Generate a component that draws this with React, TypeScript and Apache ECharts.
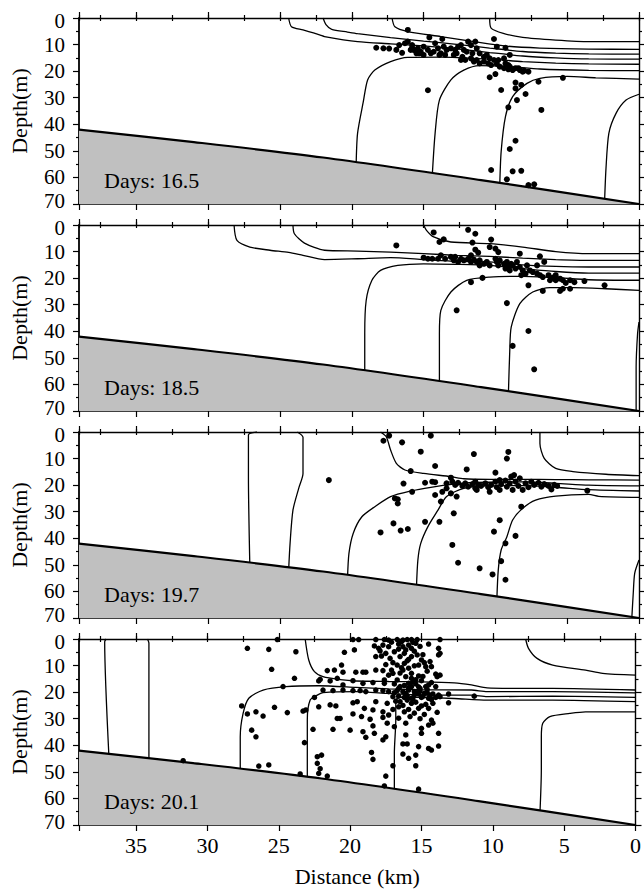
import React, { useEffect, useRef } from "react";
import * as echarts from "echarts";

const FONT = "Liberation Serif";
const DAY_LABELS = ["Days: 16.5", "Days: 18.5", "Days: 19.7", "Days: 20.1"];
const X_MIN = 0;
const X_MAX = 39;
const Y_MIN = 0;
const Y_MAX = 70;

// sea floor: [distance km, depth m]
const BATHYMETRY = [[39, 42], [31, 46.7], [22, 52.5], [11, 61.0], [0, 70]];

// ---------- Panel 1 (day 16.5) ----------
const P1_CONTOURS = [
  [[10.4,0],[10.3,3.8],[9.45,5.8],[8.1,7.3],[5.8,8.3],[3.5,8.9],[0,8.9]],
  [[17.2,0],[17.0,3.3],[16.1,5.1],[13.8,7.0],[11.5,8.9],[9.2,10.6],[6.9,11.3],[3.5,11.7],[0,11.8]],
  [[22.0,0],[21.8,2.5],[21.4,4.3],[20.3,5.3],[19.6,5.9],[17.3,7.4],[15.0,8.7],[12.7,9.9],[10.4,11.3],[8.1,12.6],[5.8,13.2],[3.5,13.5],[0,13.6]],
  [[24.4,0],[24.2,3.3],[23.4,4.5],[22.2,6.4],[21.9,7.0],[19.6,8.9],[17.3,9.7],[15.0,10.5],[12.7,11.6],[10.4,13.0],[8.1,14.3],[5.8,15.0],[3.5,15.4],[0,15.5]],
  [[19.7,55.5],[19.6,43.4],[19.2,31.5],[18.9,23.3],[18.4,19.6],[17.3,16.4],[16.1,14.8],[13.8,14.7],[10.4,15.5],[8.1,16.4],[5.8,17.0],[3.5,17.3],[0,17.4]],
  [[14.4,59.5],[14.2,43.4],[13.9,30.9],[13.1,23.3],[12.2,19.6],[11.1,17.9],[9.2,18.2],[6.9,19.2],[3.5,19.7],[0,19.8]],
  [[9.7,63.5],[9.6,50.3],[9.3,37.1],[8.8,29.6],[7.8,24.6],[6.9,22.7],[5.0,22.0],[3.0,22.5],[0,23.0]],
  [[2.4,69.5],[2.3,56.7],[2.1,43.4],[1.6,35.9],[0.9,30.9],[0,28.7]],
];
const P1_POINTS = [
  [16.1,4.5],[14.6,7.3],[13.7,7.9],[10.1,7.9],[18.3,11.2],[17.8,11.4],[17.4,11.5],[16.9,12.0],[16.7,10.2],[16.3,9.5],[16.1,8.9],[15.8,10.2],[15.7,12.0],[15.4,11.4],[15.2,12.7],[15.0,10.8],[14.7,12.0],[14.5,13.3],[14.2,9.5],[14.0,11.4],[13.8,13.3],[13.4,12.0],[13.1,11.4],[12.9,13.9],[12.6,10.8],[12.4,10.2],[12.2,12.0],[11.9,8.9],[11.7,10.2],[11.4,8.9],[11.3,11.4],[11.1,13.3],[10.8,14.6],[10.6,13.9],[10.4,15.2],[10.1,15.8],[9.9,10.8],[9.8,15.8],[9.4,15.2],[9.3,17.1],[9.1,17.7],[9.0,18.3],[8.6,18.9],[8.3,19.6],[8.0,19.8],[7.7,20.2],[9.0,13.9],[9.3,11.2],[10.4,22.3],[10.0,21.1],[9.6,27.1],[8.6,24.3],[8.2,25.2],[8.6,26.5],[7.9,28.6],[8.5,30.9],[9.1,33.6],[7.0,24.0],[5.3,22.5],[6.8,34.6],[14.7,27.2],[8.6,46.2],[9.0,49.3],[10.3,57.2],[8.8,57.7],[8.2,57.5],[9.2,60.7],[7.7,62.9],[7.3,62.6],
  [15.9,12.0],[15.3,13.3],[15.0,13.9],[14.3,12.7],[13.9,13.9],[13.5,13.9],[12.7,13.3],[12.3,14.6],[12.1,15.8],[11.7,15.2],[11.5,16.4],[11.3,15.8],[11.1,17.1],[10.8,16.4],[10.5,17.1],[10.3,17.7],[9.9,17.3],[9.7,18.3],[9.4,18.9],[9.1,19.3],[8.8,19.6],[8.4,18.9],[8.1,20.2],[12.0,12.7],[11.6,13.3],[12.8,12.0],[13.6,10.8],[15.5,13.3],[16.5,13.1],[15.8,11.2],[12.4,15.8],
];

// ---------- Panel 2 (day 18.5) ----------
const P2_CONTOURS = [
  [[15.0,0],[14.8,2.0],[14.3,4.5],[13.1,6.4],[10.4,7.0],[8.1,8.3],[5.8,10.0],[3.5,10.8],[0,10.8]],
  [[24.1,0],[24.0,3.3],[23.3,6.8],[21.9,9.5],[19.6,9.8],[17.3,10.2],[15.0,10.8],[12.7,11.4],[10.4,11.8],[8.1,12.5],[5.8,13.0],[3.5,13.3],[0,13.3]],
  [[28.2,0],[28.0,5.8],[27.1,8.3],[25.7,9.5],[24.4,10.3],[23.4,11.4],[21.9,13.0],[19.6,12.7],[17.3,12.3],[15.0,13.0],[12.7,13.7],[10.4,13.9],[8.1,15.0],[5.8,15.6],[3.5,15.8],[0,15.8]],
  [[19.1,56.5],[19.1,40.9],[19.0,28.4],[18.6,20.8],[18.0,17.1],[16.8,15.2],[15.0,14.6],[12.7,14.8],[10.4,15.2],[8.1,16.4],[5.8,17.5],[3.5,18.1],[0,18.1]],
  [[13.9,60.5],[13.9,40.9],[13.8,32.1],[13.1,25.2],[12.0,20.8],[10.4,19.6],[8.1,19.3],[5.8,19.8],[3.5,20.6],[0,20.8]],
  [[9.1,64.5],[9.0,47.2],[8.9,38.4],[8.3,29.6],[7.4,25.2],[6.2,23.6],[4.6,23.6],[2.3,24.0],[0,24.6]],
  [[0.2,70],[0.2,53.5],[0.1,40.9],[0,36.5]],
];
const P2_POINTS = [
  [14.3,2.8],[11.9,1.8],[11.4,3.3],[13.9,6.4],[13.6,5.4],[11.6,6.6],[10.3,5.5],[16.9,7.7],[11.4,9.3],[11.2,10.4],[10.4,8.3],[10.0,8.9],[9.8,10.2],[8.3,10.8],[6.9,11.8],
  [15.0,12.3],[14.7,12.7],[14.4,12.7],[14.0,12.7],[13.8,11.4],[13.5,12.7],[12.9,13.3],[12.8,12.0],[12.4,12.7],[12.2,13.3],[11.9,12.7],[11.7,13.9],[11.5,13.0],[11.3,13.9],[11.1,13.3],[10.8,14.6],[10.6,13.9],[10.4,15.2],[10.0,12.7],[9.9,13.9],[9.7,13.3],[9.4,14.6],[9.2,13.9],[9.1,15.6],[8.9,14.6],[8.6,16.4],[8.5,13.9],[8.3,15.8],[8.1,17.1],[7.8,15.2],[7.6,17.1],[7.4,17.7],[7.1,18.3],[6.9,18.9],[6.7,19.6],[6.6,13.9],[6.3,18.9],[6.0,19.8],[5.8,20.8],[5.5,20.2],[5.3,20.8],[5.1,21.8],[4.8,20.8],[4.5,21.5],[3.8,21.1],[2.4,22.7],
  [8.2,18.9],[7.7,22.7],[10.9,19.9],[11.7,21.5],[6.7,24.8],[5.5,24.8],[5.3,24.0],[4.8,24.0],[9.2,29.4],[12.7,32.1],[7.7,39.9],[8.8,45.5],[7.3,54.3],
  [7.1,15.2],[9.8,15.2],[9.3,16.4],[9.0,17.1],[8.8,15.2],[7.9,18.3],[6.2,20.8],[5.8,18.9],[11.1,15.2],[11.7,11.4],[13.1,12.0],[12.6,13.9],
];

// ---------- Panel 3 (day 19.7) ----------
const P3_CONTOURS = [
  [[26.6,0],[27.2,1.1],[27.2,16.8],[27.1,51]],
  [[23.8,0],[23.4,2.0],[23.4,15.6],[23.7,21.2],[24.1,29.4],[24.3,41.9],[24.4,52]],
  [[6.9,0],[6.9,4.3],[6.6,9.9],[5.8,13.7],[4.6,14.9],[2.3,15.9],[0,16.4]],
  [[18.0,0],[17.6,1.8],[17.3,6.8],[16.9,11.8],[16.3,14.3],[15.0,15.6],[13.1,16.8],[12.2,17.6],[10.4,17.8],[8.1,17.8],[5.8,17.9],[3.5,18.0],[0,18.1]],
  [[20.3,55],[20.2,45.7],[19.9,38.1],[19.3,31.9],[18.4,28.1],[17.3,24.3],[15.9,22.2],[14.5,20.8],[12.9,19.6],[11.5,19.0],[8.1,18.8],[5.8,19.3],[3.5,20.0],[0,20.3]],
  [[15.5,58.7],[15.4,48.2],[15.2,41.9],[14.7,35.6],[14.0,29.4],[13.4,24.3],[12.2,21.2],[10.4,20.3],[8.1,20.2],[5.8,20.8],[3.5,21.7],[0,22.2]],
  [[9.9,63],[9.8,51.9],[9.6,44.4],[9.2,39.4],[8.8,33.1],[8.1,28.7],[7.2,25.6],[5.8,24.1],[3.5,23.5],[2.8,24.2],[0,24.6]],
  [[0.5,70],[0.4,60.7],[0.3,53.2],[0,48.2]],
];
const P3_POINTS = [
  [21.6,18.1],[17.8,3.3],[17.4,1.4],[16.5,3.9],[14.5,1.4],[15.2,7.4],[14.2,12.8],[15.9,14.7],[11.5,8.3],[9.1,7.5],[9.2,10.0],[12.0,14.1],[10.0,15.3],[16.4,19.4],[14.9,19.1],[14.4,18.7],[14.2,18.9],[15.8,22.5],[17.0,25.0],[16.8,25.3],[16.8,26.9],[14.2,23.7],[13.8,26.2],[13.7,22.5],[13.4,21.2],[13.1,17.2],[13.1,23.1],[12.7,24.3],[12.9,30.6],[14.9,33.8],[13.9,33.8],[17.1,34.4],[16.6,37.1],[16.1,36.5],[18.0,37.8],[13.0,42.5],[12.6,49.2],[11.1,51.3],[10.2,53.6],[9.3,55.6],[9.7,33.2],[10.1,37.5],[8.2,28.1],[8.6,39.1],[9.3,41.9],[9.6,48.6],[3.6,22.1],
  [13.4,19.3],[13.0,18.7],[12.8,19.9],[12.6,19.1],[12.3,20.3],[12.1,19.3],[11.9,20.6],[11.6,19.6],[11.4,21.2],[11.2,19.9],[11.0,20.3],[10.7,19.3],[10.5,20.8],[10.3,19.9],[10.0,18.7],[9.9,20.8],[9.7,21.8],[9.6,19.6],[9.3,18.3],[9.2,20.6],[9.0,19.3],[8.9,16.8],[8.8,21.8],[8.6,18.7],[8.4,20.3],[8.3,17.4],[8.1,21.8],[7.9,19.3],[7.7,20.8],[7.5,18.7],[7.3,19.9],[7.0,19.1],[6.8,20.6],[6.6,19.6],[6.3,20.3],[6.1,21.6],[5.9,19.9],[5.7,20.3],[11.3,21.8],[10.4,22.5],[9.7,18.1],[8.7,16.2],[11.4,18.7],
];

// ---------- Panel 4 (day 20.1) ----------
const P4_CONTOURS = [
  [[37.1,0],[37.2,1.0],[36.9,44.5]],
  [[34.2,0],[34.1,1.6],[34.1,46]],
  [[7.7,0],[7.5,3.5],[6.9,7.3],[5.8,9.8],[3.5,11.7],[2.3,12.9],[0,13.6]],
  [[23.15,0],[22.9,7.9],[22.5,12.3],[21.9,14.2],[20.7,15.3],[19.6,15.8],[17.3,16.0],[15.0,16.1],[12.7,16.5],[11.5,17.3],[10.4,18.4],[8.1,18.6],[5.8,18.6],[0,19.2]],
  [[27.7,50],[27.7,36.8],[27.5,28.0],[27.1,22.3],[26.1,19.2],[24.5,17.9],[22.2,17.6],[19.6,18.2],[17.3,18.8],[15.0,19.1],[11.5,19.2],[10.4,19.8],[5.8,19.8],[0,20.3]],
  [[23.0,53],[23.0,30.5],[22.8,23.0],[22.3,21.1],[21.9,20.2],[19.6,19.8],[17.3,20.5],[15.0,21.1],[11.5,21.1],[10.4,21.7],[5.8,21.5],[0,22.0]],
  [[16.9,57.5],[16.9,43.0],[16.8,30.5],[16.8,23.0],[16.5,21.9],[15.0,22.0],[12.7,22.4],[10.4,23.0],[5.8,23.0],[0,23.6]],
  [[6.7,66],[6.6,49.3],[6.6,36.8],[6.5,31.7],[6.0,29.2],[4.6,28.0],[3.5,27.4],[0,27.4]],
];
const P4_POINTS = [
  [27.2,3.5],[25.7,3.9],[25.1,0.2],[23.8,4.8],[25.5,11.4],[23.9,14.8],[24.7,17.9],[27.6,25.2],[27.2,28.2],[26.6,27.4],[26.1,29.0],[25.3,25.7],[24.4,27.7],[23.3,27.1],[23.1,26.7],[26.9,34.3],[26.6,36.8],[26.4,47.8],[25.7,47.4],[23.2,39.0],[22.6,34.0],[22.5,22.0],[22.2,25.5],[22.3,44.3],[22.3,46.8],[22.0,43.7],[22.2,50.6],[23.5,50.8],[22.2,15.8],[22.1,15.2],[31.7,45.8],[22.1,48.8],
  [19.8,0.2],[19.4,0.2],[18.2,0.2],[17.6,0.2],[17.3,0.4],[16.7,0.2],[16.3,0.4],[16.0,0.2],[15.7,0.2],[15.3,0.2],[13.7,0.2],
  [20.4,5.0],[19.7,4.1],[18.3,2.6],[18.0,3.5],[17.7,2.3],[17.3,2.9],[16.9,4.8],[16.6,1.9],[16.3,2.9],[16.1,4.1],[15.9,2.3],[15.7,3.5],[15.4,1.6],[14.5,1.9],[13.8,3.5],[13.7,5.4],[16.2,5.4],[17.5,5.4],
  [20.6,9.8],[18.2,6.6],[17.8,6.4],[16.5,6.6],[15.9,7.7],[15.7,6.6],[15.0,7.9],[14.4,8.5],[13.8,6.0],[17.0,8.9],[16.7,9.8],[16.2,9.2],[15.2,9.8],[14.3,10.4],[17.1,11.7],[16.3,11.7],[15.9,11.0],[14.7,10.4],[19.6,12.5],[19.1,12.5],[18.9,12.5],[21.1,11.7],[21.6,11.9],[20.5,12.5],[17.7,11.9],[17.0,12.9],[15.7,12.9],[14.0,13.2],[13.7,13.6],[18.2,11.7],
  [16.1,14.2],[15.7,14.8],[15.2,13.9],[15.0,15.7],[17.6,15.4],[16.7,15.4],[15.9,16.7],[15.4,16.9],[14.5,17.3],[13.9,14.2],[19.8,15.7],[20.9,14.8],[21.4,15.8],[16.5,17.9],[15.7,17.9],[15.1,18.6],[14.7,17.9],[14.0,17.9],[17.6,16.7],[19.1,16.7],[18.4,16.4],[20.5,17.3],
  [21.9,19.2],[21.2,19.4],[20.5,19.2],[19.8,19.4],[19.3,19.4],[18.9,19.8],[18.2,19.2],[17.7,19.4],[17.3,19.8],[16.9,20.2],[16.7,19.4],[16.3,19.8],[16.1,20.5],[15.9,19.2],[15.5,19.8],[15.3,20.2],[15.1,19.6],[14.8,20.5],[14.6,20.2],[14.4,21.1],[14.2,20.7],[13.8,21.1],[13.1,20.7],[11.3,21.5],[16.6,21.5],[16.2,22.0],[15.7,22.3],[15.0,22.0],[14.5,22.3],[14.0,22.0],[13.7,21.7],[17.0,21.7],[15.5,21.1],[15.2,20.7],
  [21.4,24.8],[21.0,25.2],[19.8,24.0],[19.5,23.6],[18.2,23.6],[17.4,24.2],[16.5,23.6],[16.0,23.0],[15.7,24.2],[15.0,25.2],[14.2,24.2],[13.1,24.0],[19.0,26.1],[18.4,26.7],[17.7,27.4],[17.0,26.5],[16.6,25.5],[15.9,26.5],[15.2,26.1],[14.5,26.1],
  [20.9,29.9],[20.7,29.9],[19.8,28.2],[19.2,29.2],[18.6,30.2],[17.7,29.5],[17.3,28.6],[16.2,27.4],[15.8,29.2],[15.1,30.0],[14.3,30.5],
  [21.2,34.0],[20.0,34.3],[19.1,34.9],[18.4,32.7],[17.4,31.7],[16.9,33.0],[16.1,31.7],[15.0,33.6],[14.5,32.4],[14.2,31.7],[18.9,37.0],[18.3,35.5],[17.7,38.0],[17.5,36.8],[16.1,36.1],[16.0,39.5],[15.0,35.5],[13.8,35.5],[16.3,39.5],[15.2,40.5],[14.5,41.2],[13.8,40.3],[14.3,41.8],
  [18.5,42.7],[18.4,45.3],[16.3,43.3],[15.9,44.9],[15.4,43.7],[17.0,47.7],[15.4,47.7],[17.5,51.6],[17.6,55.3],[15.2,56.5],[21.6,51.6],
  [17.1,1.2],[16.4,1.0],[15.6,1.3],[17.9,4.5],[16.6,3.8],[15.5,4.6],[15.1,2.8],[14.9,5.9],[17.2,7.3],[16.0,8.2],[15.3,6.0],[14.8,8.9],[17.5,9.6],[16.4,10.8],[15.5,10.1],[14.6,12.1],[17.3,13.6],[16.5,12.8],[15.4,15.3],[14.9,14.1],[16.9,16.9],[16.2,17.5],[15.6,16.2],[14.3,16.4],[16.6,18.6],[15.9,18.4],[15.2,18.0],[14.6,19.0],[16.0,21.3],[15.6,22.6],[14.9,21.6],[14.3,22.8],[16.8,23.4],[15.4,23.8],[14.7,24.6],[16.3,25.0],[15.5,27.9],[14.8,28.4],[16.6,29.8],[13.9,27.6],
];

const CONTOURS = [P1_CONTOURS, P2_CONTOURS, P3_CONTOURS, P4_CONTOURS];
const POINTS = [P1_POINTS, P2_POINTS, P3_POINTS, P4_POINTS];

const W = 644;
const H = 889;
const GRID_LEFT = 74;
const GRID_RIGHT = 5;
const GRID_TOPS = [18, 225, 432, 639];
const GRID_H = 186;
const DOT_SIZES = [6, 6, 6, 5.5];

export default function App() {
  const ref = useRef<HTMLDivElement>(null);
  useEffect(() => {
    if (!ref.current) return;
    const chart = echarts.init(ref.current, null, { renderer: "svg" });
    const black = "#000";
    const textStyle = { fontFamily: FONT, fontSize: 22, color: black };
    const grids: any[] = [];
    const xAxes: any[] = [];
    const yAxes: any[] = [];
    const series: any[] = [];
    const graphics: any[] = [];

    for (let i = 0; i < 4; i++) {
      grids.push({ left: GRID_LEFT, right: GRID_RIGHT, top: GRID_TOPS[i], height: GRID_H, show: false });
      const xBase = {
        gridIndex: i, type: "value", min: X_MIN, max: X_MAX, inverse: true,
        splitLine: { show: false },
      };
      const xi = xAxes.length;
      xAxes.push({
        ...xBase, position: "bottom", interval: 5,
        axisLine: { show: true, onZero: false, lineStyle: { color: black, width: 1.6 } },
        axisTick: { show: true, length: 6, lineStyle: { color: black, width: 1.2 } },
        axisLabel: {
          show: i === 3, margin: 12, ...textStyle, lineHeight: 16,
          formatter: (v: number) => (v % 5 === 0 ? String(v) : ""),
        },
        name: i === 3 ? "Distance (km)" : "",
        nameLocation: "middle", nameGap: 40,
        nameTextStyle: { ...textStyle },
      });
      xAxes.push({
        ...xBase, position: "bottom", interval: 2.5,
        axisLine: { show: false }, axisLabel: { show: false },
        axisTick: { show: true, length: 3, lineStyle: { color: black, width: 1.2 } },
      });
      xAxes.push({
        ...xBase, position: "top", interval: 5,
        axisLine: { show: true, onZero: false, lineStyle: { color: black, width: 1.3 } },
        axisTick: { show: true, length: 6, lineStyle: { color: black, width: 1.2 } },
        axisLabel: { show: false },
      });
      xAxes.push({
        ...xBase, position: "top", interval: 2.5,
        axisLine: { show: false }, axisLabel: { show: false },
        axisTick: { show: true, length: 3, lineStyle: { color: black, width: 1.2 } },
      });
      const yBase = {
        gridIndex: i, type: "value", min: Y_MIN, max: Y_MAX, inverse: true, interval: 10,
        splitLine: { show: false },
        minorTick: { show: true, splitNumber: 2, length: 3, lineStyle: { color: black, width: 1.2 } },
        minorSplitLine: { show: false },
      };
      const yi = yAxes.length;
      const richBase = { fontFamily: FONT, fontSize: 21, color: black };
      yAxes.push({
        ...yBase, position: "left",
        axisLine: { show: true, onZero: false, lineStyle: { color: black, width: 1.8 } },
        axisTick: { show: true, length: 6, lineStyle: { color: black, width: 1.2 } },
        axisLabel: {
          show: true, margin: 14, fontFamily: FONT, color: black, fontSize: 21,
          formatter: (v: number) =>
            v === Y_MAX ? `{b|${v}}` : v === Y_MIN ? `{t|${v}}` : String(v),
          rich: {
            b: { ...richBase, padding: [0, 0, 6, 0] },
            t: { ...richBase, padding: [6, 0, 0, 0] },
          },
        },
        name: "Depth(m)", nameLocation: "middle", nameGap: 49,
        nameTextStyle: { ...textStyle },
      });
      yAxes.push({
        ...yBase, position: "right",
        axisLine: { show: true, onZero: false, lineStyle: { color: black, width: 1.4 } },
        axisTick: { show: true, length: 6, lineStyle: { color: black, width: 1.2 } },
        axisLabel: { show: false },
      });

      CONTOURS[i].forEach((c) => {
        series.push({
          type: "line", xAxisIndex: xi, yAxisIndex: yi, data: c,
          showSymbol: false, symbol: "none", smooth: 0.25, z: 2, silent: true,
          lineStyle: { color: black, width: 1.3 },
        });
      });
      series.push({
        type: "line", xAxisIndex: xi, yAxisIndex: yi, data: BATHYMETRY,
        showSymbol: false, symbol: "none", smooth: 0.3, z: 3, silent: true,
        lineStyle: { color: black, width: 2.2 },
        areaStyle: { color: "#c0c0c0", opacity: 1, origin: "end" },
      });
      series.push({
        type: "scatter", xAxisIndex: xi, yAxisIndex: yi, data: POINTS[i],
        symbol: "circle", symbolSize: DOT_SIZES[i], z: 4, silent: true,
        itemStyle: { color: black, opacity: 1 },
      });
      graphics.push({
        type: "text", left: 104, top: GRID_TOPS[i] + 151, z: 100, zlevel: 0,
        style: { text: DAY_LABELS[i], fill: black, fontFamily: FONT, fontSize: 22 },
      });
    }

    chart.setOption({
      animation: false,
      backgroundColor: "#fff",
      grid: grids,
      xAxis: xAxes,
      yAxis: yAxes,
      series,
      graphic: { elements: graphics },
    });
    return () => chart.dispose();
  }, []);
  return (
    <div
      ref={ref}
      style={{ position: "fixed", left: 0, top: 0, width: W, height: H }}
    />
  );
}
